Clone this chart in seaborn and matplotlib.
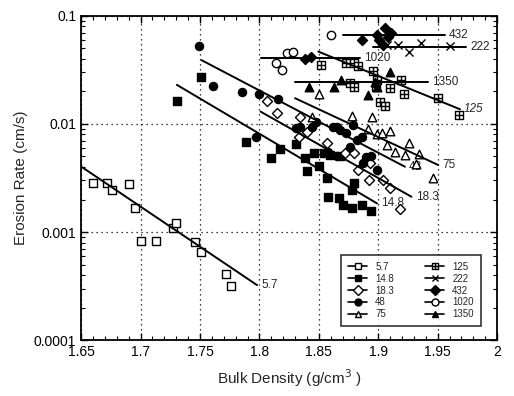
import numpy as np
import pandas as pd
import seaborn as sns
import matplotlib
matplotlib.use("Agg")
import matplotlib.pyplot as plt
from matplotlib.path import Path
from matplotlib.lines import Line2D
from matplotlib.ticker import MultipleLocator, FuncFormatter, FixedLocator, LogLocator

# Data (bulk density g/cm3, erosion rate cm/s)
x_5_7 = [1.660, 1.672, 1.676, 1.690, 1.695, 1.700, 1.713, 1.727, 1.730, 1.746, 1.751, 1.772, 1.776]
y_5_7 = [0.00286, 0.00286, 0.00245, 0.00278, 0.00168, 0.00083, 0.00082, 0.00108, 0.00122, 0.00081, 0.00065, 0.00041, 0.00032]

x_14_8 = [1.751, 1.731, 1.789, 1.810, 1.817, 1.831, 1.838, 1.840, 1.846, 1.850, 1.857, 1.858, 1.867,
          1.870, 1.878, 1.886, 1.894, 1.880, 1.878, 1.859, 1.868, 1.854]
y_14_8 = [0.0274, 0.0163, 0.00686, 0.00488, 0.00583, 0.00653, 0.00488, 0.00367, 0.00536, 0.00408, 0.00314, 0.00211, 0.00205,
          0.00178, 0.00166, 0.00178, 0.00156, 0.00284, 0.00245, 0.00516, 0.00500, 0.00536]

x_18_3 = [1.806, 1.815, 1.834, 1.840, 1.833, 1.857, 1.872, 1.880, 1.893, 1.892, 1.904, 1.910, 1.918, 1.883]
y_18_3 = [0.0163, 0.01256, 0.01153, 0.00849, 0.00753, 0.00663, 0.00536, 0.00536, 0.00433, 0.00303, 0.00303, 0.00254, 0.00162, 0.00375]

x_48 = [1.749, 1.761, 1.785, 1.800, 1.816, 1.797, 1.865, 1.882, 1.876, 1.890, 1.899, 1.834, 1.848, 1.862,
        1.865, 1.858, 1.873, 1.879, 1.886, 1.887, 1.894, 1.831, 1.844, 1.868]
y_48 = [0.0531, 0.0225, 0.0199, 0.0190, 0.0169, 0.00763, 0.00944, 0.00711, 0.00616, 0.00498, 0.00375, 0.00944, 0.0105, 0.00944,
        0.0050, 0.00556, 0.0082, 0.0098, 0.00763, 0.00433, 0.0050, 0.00912, 0.00944, 0.0088]

x_75 = [1.850, 1.844, 1.878, 1.895, 1.891, 1.899, 1.903, 1.910, 1.926, 1.907, 1.914, 1.9225, 1.934, 1.932, 1.946]
y_75 = [0.0190, 0.0117, 0.01187, 0.01153, 0.00893, 0.00807, 0.0082, 0.00861, 0.00671, 0.0064, 0.00554, 0.00516, 0.00524, 0.00424, 0.00314]

x_125 = [1.852, 1.873, 1.880, 1.883, 1.896, 1.899, 1.876, 1.880, 1.898, 1.910, 1.919, 1.922, 1.9015, 1.906, 1.9505, 1.9677]
y_125 = [0.0352, 0.0365, 0.0365, 0.0340, 0.0312, 0.0255, 0.0241, 0.0219, 0.0219, 0.0214, 0.0255, 0.0188, 0.0161, 0.0147, 0.0173, 0.0122]

x_222 = [1.907, 1.917, 1.926, 1.936, 1.960]
y_222 = [0.0539, 0.0539, 0.0467, 0.0566, 0.0528]

x_432 = [1.906, 1.899, 1.911, 1.901, 1.904, 1.886, 1.908, 1.838, 1.843]
y_432 = [0.0769, 0.0667, 0.0692, 0.0600, 0.0539, 0.0600, 0.0640, 0.0400, 0.0417]

x_1020 = [1.860, 1.823, 1.828, 1.814, 1.819]
y_1020 = [0.0667, 0.0451, 0.0461, 0.0365, 0.0316]

x_1350 = [1.842, 1.863, 1.869, 1.891, 1.899, 1.910, 1.897]
y_1350 = [0.0219, 0.0222, 0.0255, 0.0186, 0.0219, 0.0305, 0.0246]

# fitted lines: start / end
labels = ["5.7", "14.8", "18.3", "48", "75", "125", "222", "432", "1020", "1350"]
fit_x0 = [1.650, 1.7305, 1.801, 1.7513, 1.830, 1.8496, 1.896, 1.8706, 1.801, 1.830]
fit_x1 = [1.798, 1.899, 1.928, 1.9225, 1.9505, 1.9688, 1.974, 1.956, 1.8847, 1.942]
fit_y0 = [0.00403, 0.0230, 0.0130, 0.0389, 0.0173, 0.0467, 0.0520, 0.0667, 0.0406, 0.0246]
fit_y1 = [0.000323, 0.00184, 0.00212, 0.00402, 0.00417, 0.01368, 0.0520, 0.0667, 0.0406, 0.0246]

# boxed plus marker for 125
boxplus = Path(
    [(-1, -1), (1, -1), (1, 1), (-1, 1), (-1, -1), (0, -1), (0, 1), (-1, 0), (1, 0)],
    [Path.MOVETO, Path.LINETO, Path.LINETO, Path.LINETO, Path.CLOSEPOLY,
     Path.MOVETO, Path.LINETO, Path.MOVETO, Path.LINETO],
)

xs = [x_5_7, x_14_8, x_18_3, x_48, x_75, x_125, x_222, x_432, x_1020, x_1350]
ys = [y_5_7, y_14_8, y_18_3, y_48, y_75, y_125, y_222, y_432, y_1020, y_1350]
markers = ["s", "s", "D", "o", "^", boxplus, "x", "D", "o", "^"]
faces = ["white", "black", "white", "black", "white", "white", "black", "black", "white", "black"]
sizes = [30, 30, 26, 34, 38, 34, 34, 26, 36, 38]

sns.set_style("ticks")
plt.rcParams["font.family"] = ["Liberation Sans", "DejaVu Sans"]

fig = plt.figure(figsize=(5.14, 3.96), dpi=100)
ax = fig.add_axes([0.158, 0.141, 0.809, 0.819])

for i, lab in enumerate(labels):
    df = pd.DataFrame({"density": xs[i], "rate": ys[i]})
    if markers[i] == "x":
        sns.scatterplot(data=df, x="density", y="rate", marker="x", color="black",
                        s=sizes[i], linewidth=1.0, ax=ax, zorder=3)
    else:
        sns.scatterplot(data=df, x="density", y="rate", marker=markers[i], color=faces[i],
                        edgecolor="black", linewidth=1.0, s=sizes[i], ax=ax, zorder=3)
    line = pd.DataFrame({"density": [fit_x0[i], fit_x1[i]], "rate": [fit_y0[i], fit_y1[i]]})
    sns.lineplot(data=line, x="density", y="rate", color="black", linewidth=1.4, ax=ax, zorder=4)
    ax.annotate(lab, (fit_x1[i], fit_y1[i]), xytext=(3, 0), textcoords="offset points",
                ha="left", va="center", fontsize=8.5,
                style="italic" if lab == "125" else "normal")

ax.set_yscale("log")
ax.set_xlim(1.65, 2.0)
ax.set_ylim(0.0001, 0.1)
ax.xaxis.set_major_locator(MultipleLocator(0.05))
ax.xaxis.set_minor_locator(MultipleLocator(0.01))
ax.xaxis.set_major_formatter(FuncFormatter(lambda v, p: "%g" % round(v, 2)))
ax.yaxis.set_major_locator(FixedLocator([0.0001, 0.001, 0.01, 0.1]))
ax.yaxis.set_minor_locator(LogLocator(base=10, subs=np.arange(2, 10)))
ax.yaxis.set_major_formatter(FuncFormatter(lambda v, p: "%g" % v if v >= 0.001 else "0.0001"))
ax.tick_params(which="both", direction="in", top=True, right=True, colors="black", labelsize=10)
ax.tick_params(which="major", length=5, width=1)
ax.tick_params(which="minor", length=3, width=0.8)
ax.grid(which="major", linestyle=(0, (1, 3)), color="black", linewidth=0.9)
for sp in ax.spines.values():
    sp.set_color("black")
    sp.set_linewidth(1.3)

ax.set_xlabel("Bulk Density (g/cm$^3$ )", fontsize=11, labelpad=6)
ax.set_ylabel("Erosion Rate (cm/s)", fontsize=11, labelpad=4)

handles = []
for i, lab in enumerate(labels):
    if markers[i] == "x":
        h = Line2D([0], [0], color="black", marker="x", markersize=5, lw=1.2)
    else:
        h = Line2D([0], [0], color="black", marker=markers[i], markerfacecolor=faces[i],
                   markeredgecolor="black", markersize=5, lw=1.2)
    handles.append(h)
leg = ax.legend(handles, labels, ncol=2, loc="lower right", bbox_to_anchor=(0.972, 0.028),
                fontsize=7, frameon=True, fancybox=False, edgecolor="black", handlelength=2.0,
                labelspacing=0.2, columnspacing=3.2, borderpad=0.7)
leg.get_frame().set_linewidth(1.2)

fig.savefig("out.png", dpi=100)
